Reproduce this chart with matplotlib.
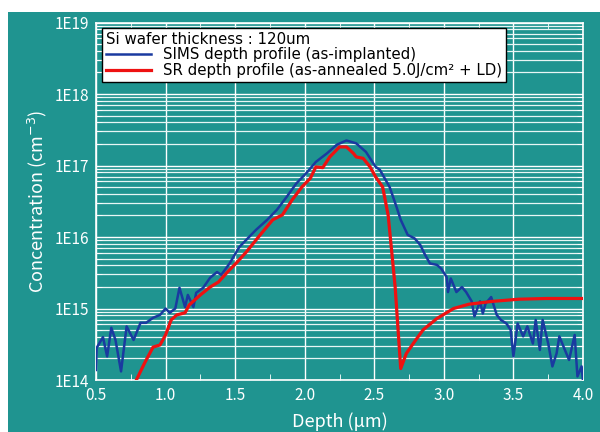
import numpy as np
import matplotlib
matplotlib.use("Agg")
import matplotlib.pyplot as plt
from matplotlib.patches import Rectangle
from matplotlib.ticker import FixedLocator, LogLocator, NullFormatter

plt.rcParams['font.family'] = ['Noto Sans CJK JP', 'DejaVu Sans']

# --- Data (depth in um, log10 of concentration in cm^-3) ---
sims_depth = [0.50, 0.505, 0.55, 0.58, 0.61, 0.64, 0.68, 0.72, 0.77, 0.82, 0.86,
              0.91, 0.96, 1.00, 1.03, 1.07, 1.10, 1.14, 1.16, 1.20, 1.22, 1.27,
              1.32, 1.37, 1.40, 1.46, 1.53, 1.58, 1.65, 1.73, 1.80, 1.87, 1.94,
              2.01, 2.08, 2.16, 2.23, 2.30, 2.37, 2.44, 2.51, 2.54, 2.61, 2.66,
              2.69, 2.74, 2.79, 2.83, 2.86, 2.90, 2.95, 2.98, 3.02, 3.03, 3.05,
              3.09, 3.13, 3.16, 3.20, 3.22, 3.26, 3.28, 3.30, 3.34, 3.38, 3.41,
              3.45, 3.48, 3.50, 3.53, 3.57, 3.60, 3.64, 3.66, 3.69, 3.71, 3.75,
              3.78, 3.81, 3.83, 3.87, 3.90, 3.94, 3.96, 3.99, 4.00]
sims_logc = [14.14, 14.45, 14.60, 14.33, 14.73, 14.56, 14.12, 14.75, 14.56, 14.80, 14.80,
             14.87, 14.91, 15.00, 14.94, 15.00, 15.29, 15.02, 15.19, 15.02, 15.22, 15.29,
             15.43, 15.51, 15.47, 15.63, 15.86, 15.96, 16.10, 16.24, 16.38, 16.56, 16.75,
             16.89, 17.05, 17.17, 17.29, 17.35, 17.31, 17.19, 16.98, 16.94, 16.70, 16.42,
             16.24, 16.03, 15.98, 15.89, 15.77, 15.63, 15.61, 15.56, 15.44, 15.23, 15.42,
             15.23, 15.30, 15.23, 15.10, 14.89, 15.10, 14.93, 15.07, 15.16, 14.91, 14.84,
             14.79, 14.70, 14.33, 14.79, 14.61, 14.75, 14.51, 14.84, 14.42, 14.84, 14.51,
             14.19, 14.37, 14.61, 14.42, 14.28, 14.63, 14.05, 14.19, 13.99]

sr_depth = [0.79, 0.85, 0.91, 0.96, 1.00, 1.04, 1.08, 1.14, 1.17, 1.25, 1.32,
            1.38, 1.44, 1.51, 1.58, 1.68, 1.77, 1.84, 1.91, 1.98, 2.04, 2.08,
            2.13, 2.18, 2.25, 2.30, 2.35, 2.37, 2.42, 2.47, 2.51, 2.56, 2.60,
            2.65, 2.69, 2.73, 2.78, 2.85, 2.95, 3.07, 3.18, 3.35, 3.54, 3.74, 4.00]
sr_logc = [14.00, 14.24, 14.46, 14.49, 14.63, 14.84, 14.91, 14.94, 15.05, 15.19, 15.30,
           15.37, 15.50, 15.64, 15.79, 16.03, 16.24, 16.31, 16.52, 16.70, 16.82, 16.98,
           16.97, 17.12, 17.26, 17.26, 17.17, 17.12, 17.10, 16.98, 16.84, 16.70, 16.30,
           15.30, 14.16, 14.37, 14.51, 14.70, 14.86, 15.00, 15.06, 15.10, 15.13, 15.14, 15.14]

x_ticks = [0.5, 1.0, 1.5, 2.0, 2.5, 3.0, 3.5, 4.0]
y_ticks = [1e14, 1e15, 1e16, 1e17, 1e18, 1e19]
y_labels = ['1E14', '1E15', '1E16', '1E17', '1E18', '1E19']

teal = '#1f9490'

fig = plt.figure(figsize=(6, 4.32), dpi=100)
fig.patch.set_facecolor('white')
fig.patches.append(Rectangle((8 / 600, 0), 1, 420 / 432, transform=fig.transFigure,
                             facecolor=teal, edgecolor='none', zorder=-10))

ax = fig.add_axes([96 / 600, 52 / 432, 487 / 600, 357.5 / 432])
ax.set_facecolor(teal)

ax.plot(sims_depth, 10 ** np.array(sims_logc), color='#1a3aa0', lw=1.8,
        label='SIMS depth profile (as-implanted)', zorder=3)
ax.plot(sr_depth, 10 ** np.array(sr_logc), color='#ee1111', lw=2.3,
        label='SR depth profile (as-annealed 5.0J/cm² + LD)', zorder=4)

ax.set_yscale('log')
ax.set_xlim(0.5, 4.0)
ax.set_ylim(1e14, 1e19)

ax.xaxis.set_major_locator(FixedLocator(x_ticks))
ax.set_xticklabels([f'{v:.1f}' for v in x_ticks])
ax.xaxis.set_minor_locator(FixedLocator(np.arange(0.75, 4.0, 0.5)))
ax.yaxis.set_major_locator(FixedLocator(y_ticks))
ax.set_yticklabels(y_labels)
ax.yaxis.set_minor_locator(LogLocator(base=10, subs=np.arange(2, 10)))
ax.yaxis.set_minor_formatter(NullFormatter())

ax.grid(True, which='major', color='white', lw=1.0)
ax.grid(True, which='minor', axis='y', color='#e8f6f5', lw=0.9)

ax.tick_params(which='both', direction='in', colors='white', top=True, right=True,
               labelsize=11)
ax.tick_params(which='major', length=0, pad=5)
ax.tick_params(which='minor', length=4)
for sp in ax.spines.values():
    sp.set_color('white')
    sp.set_linewidth(1.2)

ax.set_ylabel('Concentration (cm$^{-3}$)', color='white', fontsize=13, labelpad=4)
ax.set_xlabel('Depth (μm)', color='white', fontsize=13, labelpad=6)

leg = ax.legend(loc='upper left', bbox_to_anchor=(0.013, 0.985),
                title='Si wafer thickness : 120um',
                prop={'family': 'DejaVu Sans', 'size': 10.8},
                fancybox=False, framealpha=1, edgecolor='black',
                handlelength=3.0, handletextpad=0.8, borderpad=0.25,
                labelspacing=0.05, borderaxespad=0)
leg.get_title().set_family('DejaVu Sans')
leg.get_title().set_fontsize(10.8)
leg._legend_box.align = 'left'
leg.get_frame().set_linewidth(1.0)
leg.set_zorder(10)

fig.savefig('out.png', dpi=100, facecolor=fig.get_facecolor())
